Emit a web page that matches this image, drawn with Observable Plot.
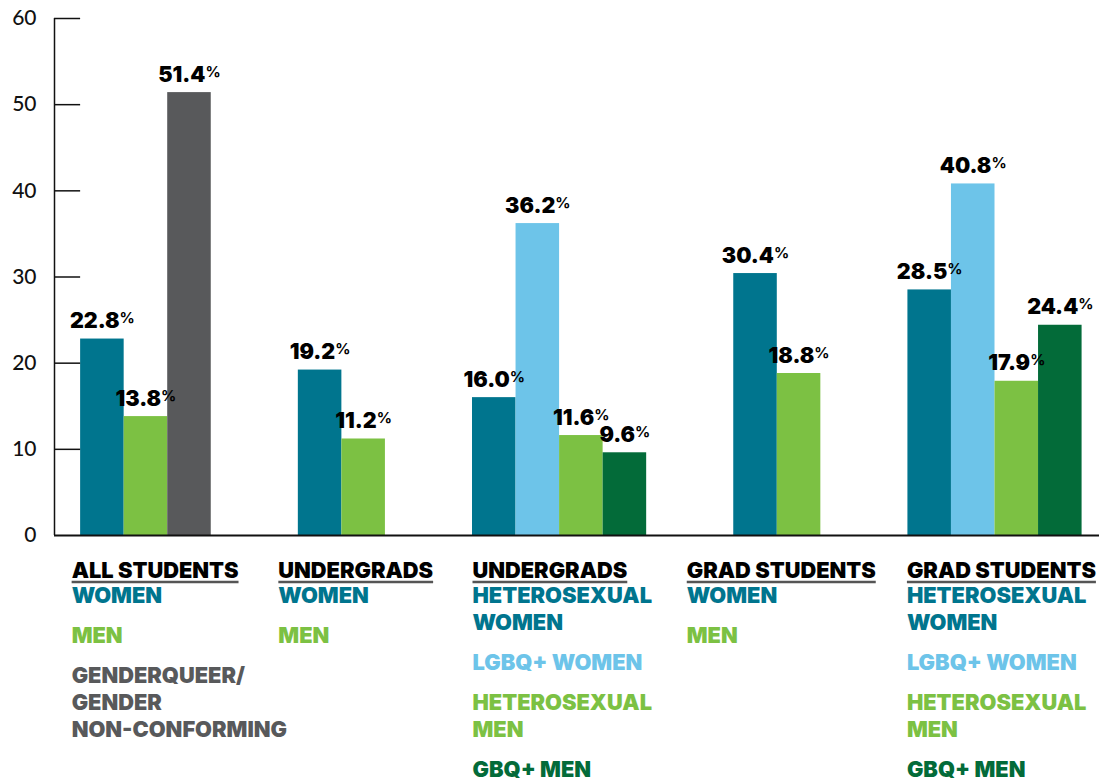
<!DOCTYPE html>
<html><head><meta charset="utf-8">
<script src="https://cdn.jsdelivr.net/npm/d3@7"></script>
<script src="https://cdn.jsdelivr.net/npm/@observablehq/plot@0.6"></script>
<style>body{margin:0;background:#fff} svg{display:block}</style>
</head><body><div id="chart"></div>
<script>
// ---- data ----
const groupTitles = ["ALL STUDENTS", "UNDERGRADS", "UNDERGRADS", "GRAD STUDENTS", "GRAD STUDENTS"];
const groupSeries = [
  ["Women", "Men", "Genderqueer/gender non-conforming"],
  ["Women", "Men"],
  ["Heterosexual women", "LGBQ+ women", "Heterosexual men", "GBQ+ men"],
  ["Women", "Men"],
  ["Heterosexual women", "LGBQ+ women", "Heterosexual men", "GBQ+ men"]
];
const groupValues = [
  [22.8, 13.8, 51.4],
  [19.2, 11.2],
  [16.0, 36.2, 11.6, 9.6],
  [30.4, 18.8],
  [28.5, 40.8, 17.9, 24.4]
];
const seriesNames = ["Women", "Men", "Genderqueer/gender non-conforming", "Heterosexual women", "LGBQ+ women", "Heterosexual men", "GBQ+ men"];
const seriesLabels = [["WOMEN"], ["MEN"], ["GENDERQUEER/", "GENDER", "NON-CONFORMING"], ["HETEROSEXUAL", "WOMEN"], ["LGBQ+ WOMEN"], ["HETEROSEXUAL", "MEN"], ["GBQ+ MEN"]];
const yTicks = [0, 10, 20, 30, 40, 50, 60];

// ---- style / layout ----
const seriesColors = ["#00758e", "#7cc143", "#58595b", "#00758e", "#6dc4e9", "#7cc143", "#036b39"];
const gapSlots = 2;
const labelShift = [-9, -20, 0, -47, -1];
const labelFont = "Inter, 'Open Sans', sans-serif";
const titleOffset = 42, firstLineOffset = 67, lineStep = 27, itemGap = 13;

// ---- build tables ----
const bars = [];
const groupStart = [];
let slot = 0;
groupSeries.forEach((ser, g) => {
  groupStart.push(slot);
  ser.forEach((s, i) => {
    bars.push({group: g, series: s, value: groupValues[g][i], x1: slot, x2: slot + 1, xc: slot + 0.5});
    slot++;
  });
  slot += gapSlots;
});
const lastSlot = slot - gapSlots;
const xStart = -0.6, xEnd = lastSlot + 0.4;

const lines = [];
groupSeries.forEach((ser, g) => {
  lines.push({g, text: groupTitles[g], off: titleOffset, color: "#000", title: true});
  let off = firstLineOffset;
  ser.forEach(s => {
    const k = seriesNames.indexOf(s);
    seriesLabels[k].forEach(t => { lines.push({g, text: t, off, color: seriesColors[k]}); off += lineStep; });
    off += itemGap;
  });
});

const labelMarks = lines.map(l => Plot.text([l], {
  x: groupStart[l.g], frameAnchor: "bottom", text: "text",
  textAnchor: "start", lineAnchor: "bottom", dx: labelShift[l.g], dy: l.off,
  fill: l.color, fontSize: 21.8, fontWeight: 900, fontFamily: labelFont,
  ariaLabel: () => l.title ? "group title" : "series label"
}));

const chart = Plot.plot({
  width: 1099, height: 780,
  marginLeft: 54, marginRight: 0, marginTop: 18, marginBottom: 245,
  style: {fontFamily: "Lato, sans-serif", background: "#fff"},
  x: {domain: [xStart, xEnd], axis: null},
  y: {domain: [0, 60], axis: null, label: null},
  color: {domain: seriesNames, range: seriesColors},
  marks: [
    Plot.rect(bars, {x1: "x1", x2: "x2", y1: 0, y2: "value", fill: "series"}),
    Plot.ruleX([xStart], {y1: 0, y2: 60, stroke: "#111", strokeWidth: 1.5}),
    Plot.ruleY(yTicks.filter(d => d > 0), {x1: xStart, x2: 0, stroke: "#111", strokeWidth: 1.5}),
    Plot.ruleY([0], {stroke: "#111", strokeWidth: 2}),
    Plot.axisY(yTicks, {tickSize: 0, tickPadding: 18, fontSize: 21, fontWeight: 500, fill: "#111", label: null}),
    Plot.text(bars, {x: "xc", y: "value", text: d => d.value.toFixed(1) + "%", dy: -11, lineAnchor: "bottom",
      fontSize: 21.5, fontWeight: 900, fontFamily: labelFont, fill: "#000", ariaLabel: () => "value label"}),
    ...labelMarks
  ]
});
document.getElementById("chart").appendChild(chart);

chart.querySelectorAll('text[aria-label="value label"]').forEach(t => {
  const s = t.textContent;
  t.textContent = s.replace("%", "");
  const ts = document.createElementNS("http://www.w3.org/2000/svg", "tspan");
  ts.setAttribute("font-size", "15");
  ts.setAttribute("font-weight", "700");
  ts.setAttribute("dy", "-5");
  ts.textContent = "%";
  t.appendChild(ts);
});
chart.querySelectorAll('text[aria-label="group title"]').forEach(t => {
  const b = t.getBBox();
  const line = document.createElementNS("http://www.w3.org/2000/svg", "line");
  line.setAttribute("x1", b.x);
  line.setAttribute("x2", b.x + b.width);
  const y = b.y + b.height - 0.5;
  line.setAttribute("y1", y);
  line.setAttribute("y2", y);
  line.setAttribute("stroke", "#555");
  line.setAttribute("stroke-width", "2.5");
  const tr = t.getAttribute("transform");
  if (tr) line.setAttribute("transform", tr);
  t.parentNode.appendChild(line);
});
</script></body></html>
